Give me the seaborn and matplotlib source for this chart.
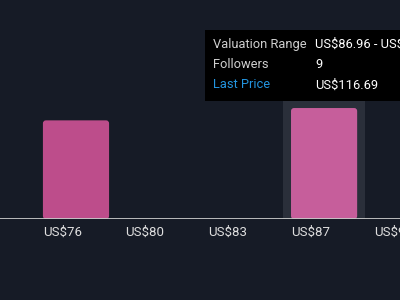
import matplotlib
matplotlib.use("Agg")
import matplotlib.pyplot as plt
import seaborn as sns
import numpy as np
import pandas as pd
from matplotlib.patches import FancyBboxPatch

bins = ["US$76", "US$80", "US$83", "US$87", "US$90"]
followers = [8, 0, 0, 9, 0]
highlight_bin = "US$87"
tooltip_labels = ["Valuation Range", "Followers", "Last Price"]
tooltip_values = ["US$86.96 - US$90.36", "9", "US$116.69"]

BG = "#161b26"
BAR = "#bd4d8b"
BAR_HI = "#c65e9b"
BAND = "#2a2f3a"

sns.set_theme(style="dark")
plt.rcParams["font.family"] = ["Roboto", "DejaVu Sans"]
plt.rcParams["text.parse_math"] = False

df = pd.DataFrame({"bin": bins, "followers": followers})

fig = plt.figure(figsize=(4, 3), dpi=100, facecolor=BG)
ax = fig.add_axes([0, 1 - 219 / 300, 1, 179 / 300])
ax.set_facecolor(BG)

palette = {b: (BAR_HI if b == highlight_bin else BAR) for b in bins}
sns.barplot(data=df, x="bin", y="followers", hue="bin", palette=palette,
            legend=False, ax=ax, width=0.8, saturation=1, zorder=2)

ax.set_xlim(-0.919, 3.918)
ax.set_ylim(0, 179 / 12.33)

# round bar corners
rx = 3 / 82.7
ry = 3 / 12.33
for p in list(ax.patches):
    x, y, w, h = p.get_x(), p.get_y(), p.get_width(), p.get_height()
    if h <= 0:
        p.remove()
        continue
    fc = p.get_facecolor()
    p.remove()
    fb = FancyBboxPatch((x, y), w, h,
                        boxstyle=f"round,pad=0,rounding_size={rx}",
                        mutation_aspect=ry / rx, facecolor=fc, edgecolor="none",
                        zorder=2)
    ax.add_patch(fb)

hi = bins.index(highlight_bin)
ax.axvspan(hi - 0.5, hi + 0.5, color=BAND, zorder=1, lw=0)

ax.axhline(0, color="#c8c8c8", lw=1.3, zorder=3)

ax.set_xticks(np.arange(len(bins)) - 0.4)
ax.set_xticklabels(bins, ha="left", color="#dedede", fontsize=9.5)
ax.tick_params(axis="x", length=0, pad=5)
ax.set_yticks([])
ax.set_xlabel("")
ax.set_ylabel("")
for s in ax.spines.values():
    s.set_visible(False)
ax.grid(False)

# tooltip
tip = fig.add_axes([205 / 400, 1 - 101 / 300, 1, 71 / 300])
tip.set_facecolor("#000000")
tip.set_xticks([])
tip.set_yticks([])
for s in tip.spines.values():
    s.set_visible(False)
rows_y = [44, 64, 85]
label_colors = ["#cfcfcf", "#cfcfcf", "#2394df"]
for lab, val, yy, lc in zip(tooltip_labels, tooltip_values, rows_y, label_colors):
    fig.text(213 / 400, 1 - yy / 300, lab, color=lc, fontsize=9.3, va="center", ha="left")
    fig.text(315 / 400, 1 - yy / 300, val, color="#ffffff", fontsize=9.3, va="center", ha="left")

fig.savefig("out.png", dpi=100, facecolor=BG)
